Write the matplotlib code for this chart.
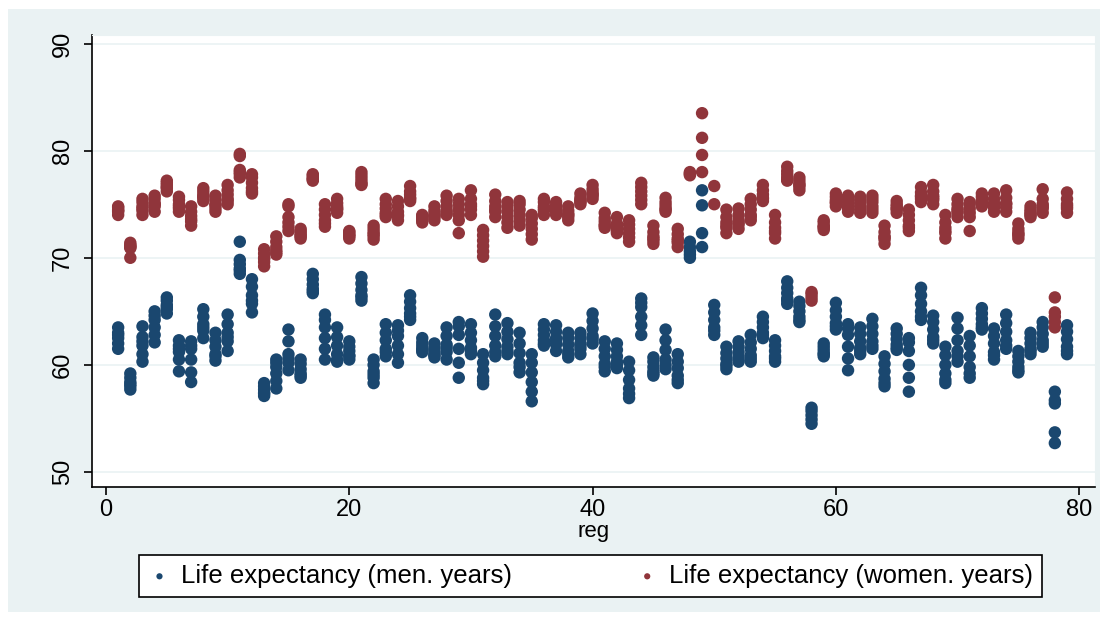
import matplotlib
matplotlib.use("Agg")
import matplotlib.pyplot as plt
from matplotlib.patches import Rectangle

plt.rcParams['font.family'] = ['Liberation Sans', 'DejaVu Sans']

# life expectancy per region, several years each
men = {
    1: [61.5, 62.0, 62.5, 63.0, 63.5, 62.8],
    2: [57.7, 58.0, 58.4, 58.8, 59.2, 58.2],
    3: [60.3, 61.0, 61.8, 62.6, 63.6, 62.2],
    4: [62.1, 62.8, 63.5, 64.2, 65.0, 64.6],
    5: [64.8, 65.2, 65.6, 66.0, 66.3, 65.4],
    6: [59.4, 60.5, 61.2, 61.8, 62.3, 61.5],
    7: [58.4, 59.3, 60.5, 61.5, 62.2, 61.8],
    8: [62.5, 63.2, 63.8, 64.5, 65.2, 63.5],
    9: [60.4, 61.0, 61.7, 62.3, 63.0, 60.8],
    10: [61.3, 62.2, 63.0, 63.8, 64.7, 62.6],
    11: [68.5, 69.0, 69.4, 69.8, 71.5, 68.8],
    12: [64.9, 65.7, 66.5, 67.3, 68.0, 66.0],
    13: [57.1, 57.4, 57.7, 58.0, 58.3, 57.3],
    14: [57.8, 58.5, 59.2, 59.8, 60.5, 60.2],
    15: [59.5, 60.2, 61.0, 62.2, 63.3, 60.6],
    16: [58.8, 59.2, 59.6, 60.1, 60.5, 59.0],
    17: [66.7, 67.1, 67.5, 68.0, 68.5, 66.9],
    18: [60.5, 61.5, 62.5, 63.5, 64.7, 64.2],
    19: [60.3, 61.0, 61.8, 62.6, 63.5, 60.5],
    20: [60.5, 60.9, 61.3, 61.7, 62.2, 60.8],
    21: [66.0, 66.5, 67.0, 67.6, 68.2, 66.3],
    22: [58.3, 58.8, 59.4, 60.0, 60.5, 59.1],
    23: [60.8, 61.5, 62.3, 63.0, 63.8, 61.2],
    24: [60.2, 61.0, 61.8, 62.7, 63.7, 63.2],
    25: [64.2, 64.8, 65.3, 65.9, 66.5, 64.5],
    26: [61.2, 61.5, 61.8, 62.1, 62.5, 61.4],
    27: [60.7, 61.0, 61.3, 61.6, 62.0, 60.9],
    28: [60.5, 61.2, 61.9, 62.7, 63.5, 61.6],
    29: [58.8, 60.2, 61.5, 62.8, 64.0, 63.6],
    30: [61.0, 61.6, 62.3, 63.0, 63.8, 61.3],
    31: [58.2, 58.8, 59.5, 60.2, 61.0, 58.5],
    32: [60.8, 61.8, 62.7, 63.6, 64.7, 61.2],
    33: [61.0, 61.7, 62.4, 63.1, 63.9, 61.3],
    34: [59.3, 60.2, 61.1, 62.0, 63.0, 59.8],
    35: [56.6, 57.5, 58.4, 59.3, 60.2, 61.0],
    36: [61.8, 62.3, 62.8, 63.3, 63.8, 62.0],
    37: [61.3, 61.9, 62.5, 63.1, 63.7, 62.2],
    38: [60.7, 61.3, 61.9, 62.5, 63.0, 61.0],
    39: [61.0, 61.5, 62.0, 62.5, 63.0, 61.8],
    40: [62.0, 62.7, 63.4, 64.1, 64.8, 62.4],
    41: [59.4, 60.1, 60.8, 61.5, 62.2, 59.8],
    42: [59.7, 60.3, 60.8, 61.4, 62.0, 60.0],
    43: [56.9, 57.8, 58.6, 59.5, 60.3, 57.3],
    44: [62.8, 63.7, 64.5, 65.4, 66.2, 65.8],
    45: [59.0, 59.4, 59.8, 60.3, 60.7, 59.2],
    46: [59.6, 60.5, 61.4, 62.3, 63.3, 60.0],
    47: [58.3, 59.0, 59.7, 60.3, 61.0, 58.6],
    48: [70.0, 70.3, 70.6, 71.0, 71.5],
    49: [71.0, 72.3, 74.9, 76.3],
    50: [62.8, 63.5, 64.2, 64.9, 65.6, 63.2],
    51: [59.6, 60.1, 60.6, 61.1, 61.7, 59.9],
    52: [60.3, 60.8, 61.2, 61.7, 62.2, 60.5],
    53: [60.3, 60.9, 61.5, 62.1, 62.8, 60.6],
    54: [62.5, 63.0, 63.5, 64.0, 64.5, 62.8],
    55: [60.3, 60.8, 61.3, 61.8, 62.3, 60.6],
    56: [65.7, 66.2, 66.7, 67.2, 67.8, 66.0],
    57: [64.0, 64.5, 65.0, 65.5, 65.9, 64.2],
    58: [54.5, 54.9, 55.3, 55.7, 56.0],
    59: [60.8, 61.1, 61.4, 61.7, 62.0, 61.0],
    60: [63.3, 63.9, 64.5, 65.1, 65.8, 63.6],
    61: [59.5, 60.6, 61.7, 62.8, 63.8, 63.4],
    62: [61.0, 61.6, 62.2, 62.9, 63.5, 61.3],
    63: [61.5, 62.2, 62.9, 63.6, 64.3, 61.8],
    64: [58.0, 58.7, 59.4, 60.1, 60.8, 58.3],
    65: [61.4, 61.9, 62.4, 62.9, 63.4, 61.6],
    66: [57.5, 58.8, 60.0, 61.3, 62.5, 62.1],
    67: [64.2, 65.0, 65.7, 66.5, 67.2, 64.5],
    68: [62.0, 62.6, 63.3, 64.0, 64.6, 62.3],
    69: [58.3, 59.2, 60.0, 60.9, 61.7, 58.6],
    70: [60.3, 61.3, 62.3, 63.4, 64.4, 60.8],
    71: [58.8, 59.8, 60.8, 61.8, 62.7, 59.2],
    72: [63.3, 63.8, 64.3, 64.8, 65.3, 63.5],
    73: [60.5, 61.2, 62.0, 62.7, 63.4, 60.9],
    74: [61.5, 62.3, 63.1, 63.9, 64.7, 61.8],
    75: [59.3, 59.8, 60.3, 60.8, 61.3, 59.5],
    76: [61.0, 61.5, 62.0, 62.5, 63.0, 61.3],
    77: [61.7, 62.3, 62.9, 63.5, 64.0, 62.0],
    78: [52.7, 53.7, 56.4, 56.7, 57.5],
    79: [61.0, 61.7, 62.4, 63.1, 63.7, 61.3],
}

women = {
    1: [74.0, 74.3, 74.5, 74.7, 74.8, 74.4],
    2: [70.0, 71.0, 71.2, 71.4, 71.1, 70.9],
    3: [74.0, 74.4, 74.8, 75.2, 75.5, 74.6],
    4: [74.3, 74.8, 75.1, 75.5, 75.8, 75.0],
    5: [76.2, 76.5, 76.8, 77.0, 77.2, 76.6],
    6: [74.3, 74.6, 75.0, 75.4, 75.7, 74.8],
    7: [73.0, 73.4, 73.9, 74.3, 74.8, 73.6],
    8: [75.3, 75.6, 75.9, 76.2, 76.5, 75.7],
    9: [74.3, 74.6, 75.0, 75.4, 75.8, 74.9],
    10: [75.0, 75.5, 75.9, 76.3, 76.8, 75.3],
    11: [77.5, 77.8, 78.0, 78.2, 79.7, 79.5],
    12: [76.0, 76.5, 77.0, 77.5, 77.8, 76.2],
    13: [69.2, 69.6, 70.0, 70.4, 70.8, 69.9],
    14: [70.3, 70.7, 71.0, 71.5, 72.0, 70.5],
    15: [72.5, 72.9, 73.3, 73.8, 75.0, 74.8],
    16: [71.8, 72.0, 72.3, 72.5, 72.7, 72.1],
    17: [77.2, 77.4, 77.5, 77.7, 77.8, 77.3],
    18: [72.9, 73.5, 74.0, 74.5, 75.0, 73.2],
    19: [74.2, 74.5, 74.8, 75.1, 75.5, 74.6],
    20: [71.8, 72.0, 72.2, 72.4, 72.5, 72.1],
    21: [76.8, 77.1, 77.4, 77.7, 78.0, 76.9],
    22: [71.7, 72.0, 72.4, 72.7, 73.0, 72.2],
    23: [73.8, 74.2, 74.6, 75.0, 75.5, 74.0],
    24: [73.5, 73.9, 74.3, 74.8, 75.3, 74.0],
    25: [75.3, 75.6, 75.9, 76.2, 76.7, 75.5],
    26: [73.3, 73.5, 73.7, 73.9, 74.0, 73.6],
    27: [73.5, 73.8, 74.1, 74.4, 74.8, 73.9],
    28: [74.0, 74.4, 74.8, 75.3, 75.8, 74.2],
    29: [72.3, 73.5, 74.0, 74.5, 75.0, 75.5],
    30: [74.0, 74.5, 75.0, 75.5, 76.3, 74.8],
    31: [70.1, 70.6, 71.1, 71.6, 72.1, 72.6],
    32: [73.8, 74.3, 74.8, 75.3, 75.9, 74.5],
    33: [72.8, 73.3, 73.8, 74.3, 74.8, 75.2],
    34: [73.0, 73.5, 74.0, 74.5, 75.0, 75.3],
    35: [71.7, 72.2, 72.7, 73.2, 73.7, 74.0],
    36: [74.0, 74.4, 74.8, 75.2, 75.5, 74.6],
    37: [74.0, 74.3, 74.6, 74.9, 75.2, 74.5],
    38: [73.5, 73.8, 74.1, 74.4, 74.8, 74.0],
    39: [75.0, 75.2, 75.4, 75.6, 76.0, 75.3],
    40: [75.5, 75.8, 76.1, 76.4, 76.8, 75.9],
    41: [72.8, 73.1, 73.4, 73.7, 74.2, 73.0],
    42: [72.3, 72.6, 72.9, 73.2, 73.8, 72.5],
    43: [71.5, 71.9, 72.3, 72.7, 73.5, 73.1],
    44: [75.0, 75.4, 75.8, 76.2, 77.0, 76.6],
    45: [71.3, 71.6, 72.0, 72.4, 73.0, 71.8],
    46: [74.3, 74.6, 74.9, 75.2, 75.6, 74.5],
    47: [71.0, 71.4, 71.8, 72.2, 72.7, 71.6],
    48: [77.7, 77.8, 78.0, 77.9],
    49: [78.0, 79.6, 81.2, 83.5],
    50: [75.0, 76.7],
    51: [72.3, 72.8, 73.3, 73.8, 74.5, 73.0],
    52: [72.7, 73.1, 73.5, 74.0, 74.6, 73.3],
    53: [73.5, 74.0, 74.5, 75.0, 75.5, 73.8],
    54: [75.3, 75.6, 75.9, 76.3, 76.8, 75.5],
    55: [71.8, 72.3, 72.8, 73.3, 74.0, 72.5],
    56: [77.2, 77.5, 77.8, 78.1, 78.5, 77.3],
    57: [76.3, 76.6, 76.9, 77.2, 77.5, 76.8],
    58: [66.0, 66.3, 66.6, 66.8],
    59: [72.6, 72.8, 73.0, 73.3, 73.5, 72.9],
    60: [74.8, 75.1, 75.4, 75.7, 76.0, 75.2],
    61: [74.3, 74.6, 74.9, 75.2, 75.8, 75.5],
    62: [74.2, 74.5, 74.8, 75.1, 75.7, 75.4],
    63: [74.2, 74.5, 74.8, 75.2, 75.8, 75.5],
    64: [71.3, 71.7, 72.0, 72.4, 73.0, 71.9],
    65: [74.2, 74.5, 74.8, 75.0, 75.3, 74.6],
    66: [72.5, 73.0, 73.5, 74.0, 74.5, 72.8],
    67: [75.2, 75.5, 75.8, 76.1, 76.6, 75.7],
    68: [75.0, 75.4, 75.8, 76.2, 76.8, 75.6],
    69: [71.8, 72.3, 72.8, 73.3, 74.0, 72.5],
    70: [73.8, 74.2, 74.6, 75.0, 75.5, 74.4],
    71: [72.5, 73.8, 74.2, 74.6, 75.0, 75.2],
    72: [74.8, 75.1, 75.4, 75.7, 76.0, 75.3],
    73: [74.3, 74.7, 75.1, 75.5, 76.0, 74.9],
    74: [74.3, 74.7, 75.1, 75.6, 76.3, 75.0],
    75: [71.8, 72.1, 72.4, 72.7, 73.2, 72.2],
    76: [73.8, 74.0, 74.3, 74.5, 74.8, 74.1],
    77: [74.2, 74.6, 75.0, 75.5, 76.4, 74.8],
    78: [63.5, 64.0, 64.5, 64.9, 66.3],
    79: [74.2, 74.6, 75.0, 75.5, 76.1, 74.8],
}

navy = "#1A476F"
maroon = "#90353B"
bg = "#EAF2F3"

def flatten(d):
    xs, ys = [], []
    for reg, vals in d.items():
        for v in vals:
            xs.append(reg)
            ys.append(v)
    return xs, ys

fig = plt.figure(figsize=(11.12, 6.21), dpi=100)
fig.patch.set_facecolor("white")

# stata graph region, drawn on a background axes
back = fig.add_axes([0, 0, 1, 1], zorder=0)
back.set_axis_off()
back.add_patch(Rectangle((8 / 1112, 9 / 621), 1092 / 1112, 603 / 621,
                         transform=back.transAxes, facecolor=bg,
                         edgecolor="none"))

ax = fig.add_axes([92 / 1112, 1 - 487 / 621, 1003 / 1112, 452 / 621], zorder=1)
ax.set_facecolor("white")

mx, my = flatten(men)
wx, wy = flatten(women)
ax.scatter(mx, my, s=80, color=navy, edgecolors="none", zorder=3,
           label="Life expectancy (men. years)")
ax.scatter(wx, wy, s=80, color=maroon, edgecolors="none", zorder=4,
           label="Life expectancy (women. years)")

ax.set_xlim(-1.15, 81.3)
ax.set_ylim(48.6, 90.8)
ax.set_xticks([0, 20, 40, 60, 80])
ax.set_yticks([50, 60, 70, 80, 90])
ax.grid(axis="y", color=bg, linewidth=1.2, zorder=0)
ax.set_axisbelow(True)

for s in ["top", "right"]:
    ax.spines[s].set_color(bg)
for s in ["left", "bottom"]:
    ax.spines[s].set_color("black")
    ax.spines[s].set_linewidth(1.2)

ax.tick_params(axis="both", direction="out", length=6, width=1.2,
               labelsize=17, color="black")
ax.tick_params(axis="y", pad=7)
ax.tick_params(axis="x", pad=3)
plt.setp(ax.get_yticklabels(), rotation=90, va="center")
ax.set_xlabel("reg", fontsize=16, labelpad=0)

leg = ax.legend(loc="center", bbox_to_anchor=(0.497, -0.197), ncol=2,
                frameon=True, fancybox=False, fontsize=18.5, markerscale=0.5,
                columnspacing=4.8, handletextpad=0.4, borderpad=0.35,
                handlelength=0.9, borderaxespad=0, framealpha=1)
leg.get_frame().set_edgecolor("black")
leg.get_frame().set_linewidth(1.2)

fig.savefig("out.png", dpi=100, facecolor=fig.get_facecolor())
